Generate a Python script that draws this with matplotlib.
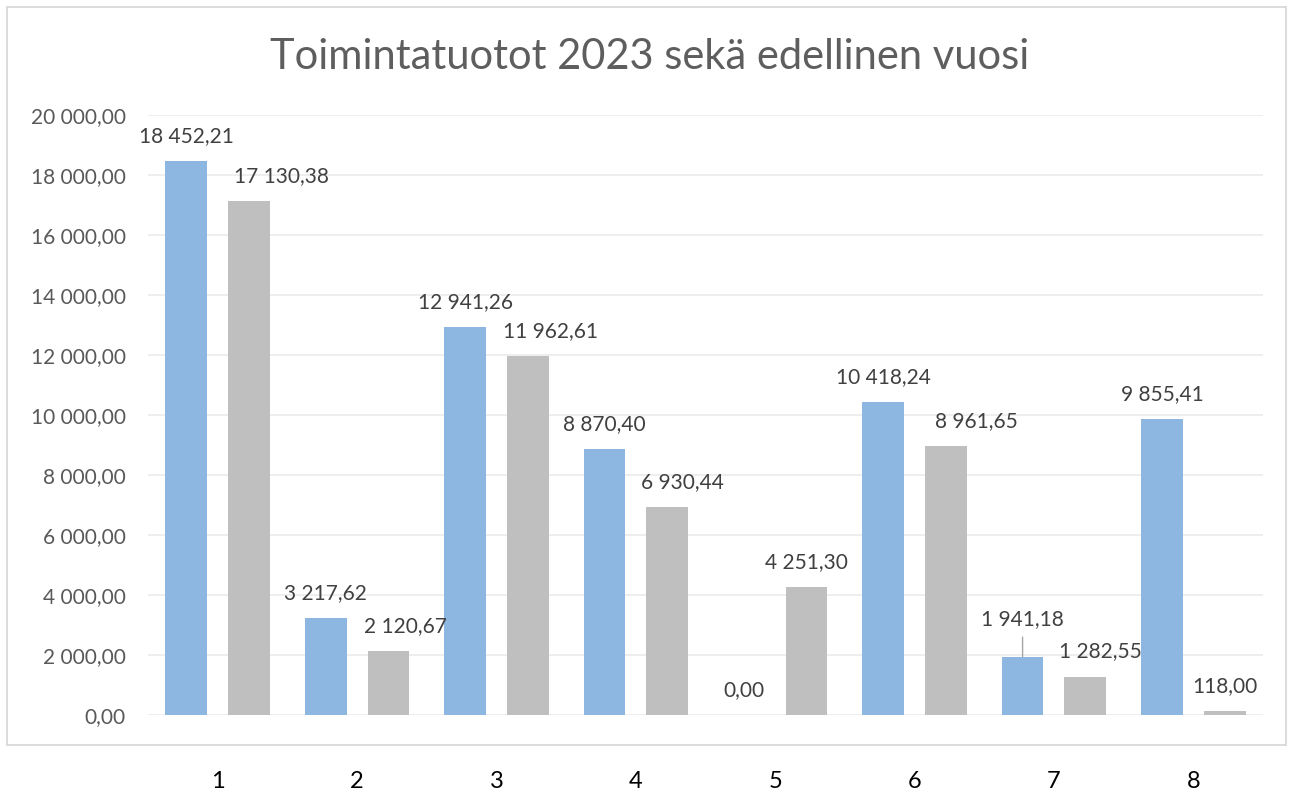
import numpy as np
import matplotlib.pyplot as plt
from matplotlib.patches import Rectangle

plt.rcParams['font.family'] = ['Lato', 'DejaVu Sans']

categories = ["1", "2", "3", "4", "5", "6", "7", "8"]
vuosi_2023 = [18452.21, 3217.62, 12941.26, 8870.40, 0.00, 10418.24, 1941.18, 9855.41]
edellinen = [17130.38, 2120.67, 11962.61, 6930.44, 4251.30, 8961.65, 1282.55, 118.00]
y_ticks = [0, 2000, 4000, 6000, 8000, 10000, 12000, 14000, 16000, 18000, 20000]

# sideways nudges of the grey labels (pixels), as excel placed them
gray_dx = [32, 17, 23, 15, 0, 30, 15, 0]


def fmt(v):
    s = f"{v:,.2f}"
    return s.replace(",", " ").replace(".", ",")


fig = plt.figure(figsize=(12.93, 7.95), dpi=100)
ax = fig.add_axes([148/1293, 80/795, 1115/1293, 600/795])

# chart border
fig.patches.append(Rectangle((7/1293, 50/795), 1279/1293, 738/795,
                             transform=fig.transFigure, fill=False,
                             edgecolor='#D9D9D9', lw=1.3))

x = np.arange(len(categories))
w = 0.30
blue = '#8DB7E1'
gray = '#BFBFBF'
ax.bar(x - 0.225, vuosi_2023, w, color=blue, zorder=2)
ax.bar(x + 0.225, edellinen, w, color=gray, zorder=2)

px = 0.72  # points per pixel at 100 dpi
lab = dict(ha='center', va='center', fontsize=15, color='#404040')
for i in range(len(categories)):
    if i == 6:
        # this label was dragged up in excel, so it has a leader line
        ax.annotate(fmt(vuosi_2023[i]), (x[i] - 0.225, vuosi_2023[i]),
                    xytext=(0, 38*px), textcoords='offset points',
                    arrowprops=dict(arrowstyle='-', color='#A6A6A6', lw=1,
                                    shrinkA=4, shrinkB=0), **lab)
    else:
        ax.annotate(fmt(vuosi_2023[i]), (x[i] - 0.225, vuosi_2023[i]),
                    xytext=(0, 25*px), textcoords='offset points', **lab)
    ax.annotate(fmt(edellinen[i]), (x[i] + 0.225, edellinen[i]),
                xytext=(gray_dx[i]*px, 25*px), textcoords='offset points', **lab)

ax.set_xlim(-0.5, 7.5)
ax.set_ylim(0, 20000)
ax.set_yticks(y_ticks)
ax.set_yticklabels([fmt(t) for t in y_ticks], fontsize=15, color='#595959')
ax.set_xticks(x)
ax.set_xticklabels(categories, fontsize=17, color='black')
ax.tick_params(axis='x', length=0, pad=40)
ax.tick_params(axis='y', length=0, pad=16)
ax.grid(axis='y', color='#EBEBEB', lw=1.2, zorder=0)
for s in ax.spines.values():
    s.set_visible(False)

fig.text(650/1293, 1 - 57/795, "Toimintatuotot 2023 sekä edellinen vuosi",
         ha='center', va='center', fontsize=30, color='#5E5E5E')

plt.savefig('out.png', dpi=100)
